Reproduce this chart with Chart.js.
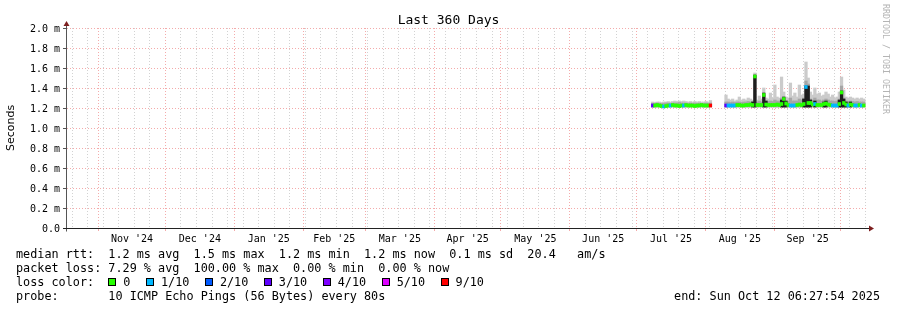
<!DOCTYPE html>
<html>
<head>
<meta charset="utf-8">
<title>Last 360 Days</title>
<script src="https://cdn.jsdelivr.net/npm/chart.js@4.4.1/dist/chart.umd.min.js"></script>
<style>
  body { margin: 0; background: #fff; }
  #frame { position: relative; width: 897px; height: 310px; font-family: "DejaVu Sans Mono", monospace; color: #000; overflow: hidden; }
  #chart { position: absolute; left: 0; top: 0; }
  .title { position: absolute; left: 0; top: 12px; width: 897px; text-align: center; font-size: 13px; line-height: 16px; }
  .stamp { position: absolute; left: 881px; top: 4px; writing-mode: vertical-rl; font-size: 8.3px; line-height: 10px; color: #b4b4b4; }
  .row { position: absolute; left: 16px; font-size: 11.8px; line-height: 14px; white-space: pre; }
  .row.end { left: auto; right: 17px; }
  .box { display: inline-block; width: 6px; height: 6px; border: 1px solid #000; vertical-align: middle; margin-right: 7px; position: relative; top: -1px; }
  .item { margin-right: 15.5px; }
</style>
</head>
<body>
<div id="frame">
  <canvas id="chart" width="897" height="310"></canvas>
  <div class="title">Last 360 Days</div>
  <div class="stamp">RRDTOOL / TOBI OETIKER</div>
  <div class="row" style="top:247px">median rtt:  1.2 ms avg  1.5 ms max  1.2 ms min  1.2 ms now  0.1 ms sd  20.4   am/s</div>
  <div class="row" style="top:261px">packet loss: 7.29 % avg  100.00 % max  0.00 % min  0.00 % now</div>
  <div class="row" id="lossRow" style="top:275px">loss color:  </div>
  <div class="row" style="top:289px">probe:       10 ICMP Echo Pings (56 Bytes) every 80s</div>
  <div class="row end" style="top:289px">end: Sun Oct 12 06:27:54 2025</div>
</div>
<script>
// window: 360 days ending Sun Oct 12 06:27:54 2025
const windowStart = Date.UTC(2024, 9, 17, 6, 27, 54);
const windowDays = 360;

// month boundaries (red grid) and the labels centred between them
const monthStarts = ["2024-11-01", "2024-12-01", "2025-01-01", "2025-02-01", "2025-03-01", "2025-04-01",
  "2025-05-01", "2025-06-01", "2025-07-01", "2025-08-01", "2025-09-01", "2025-10-01"];
const monthLabels = ["Nov '24", "Dec '24", "Jan '25", "Feb '25", "Mar '25", "Apr '25",
  "May '25", "Jun '25", "Jul '25", "Aug '25", "Sep '25"];
const firstWeekLine = "2024-10-20";

const yTickLabels = ["0.0", "0.2 m", "0.4 m", "0.6 m", "0.8 m", "1.0 m", "1.2 m", "1.4 m", "1.6 m", "1.8 m", "2.0 m"];

// one sample per day, days counted from the start of the window
const sampleDays = [
  264, 265, 266, 267, 268, 269, 270, 271, 272, 273, 274, 275, 276, 277,
  278, 279, 280, 281, 282, 283, 284, 285, 286, 287, 288, 289, 290,
  // gap, then second run
  297, 298, 299, 300, 301, 302, 303, 304, 305, 306,
  307, 308, 309, 310, 311, 312, 313, 314, 315, 316,
  317, 318, 319, 320, 321, 322, 323, 324, 325, 326,
  327, 328, 329, 330, 331, 332, 333, 334, 335, 336,
  337, 338, 339, 340, 341, 342, 343, 344, 345, 346,
  347, 348, 349, 350, 351, 352, 353, 354, 355, 356,
  357, 358, 359
];

// median rtt in ms
const medianMs = [
  1.225, 1.225, 1.23, 1.225, 1.22, 1.215, 1.22, 1.225, 1.225, 1.23, 1.225, 1.225, 1.22, 1.225,
  1.225, 1.23, 1.225, 1.225, 1.225, 1.22, 1.225, 1.225, 1.23, 1.225, 1.225, 1.225, 1.225,
  1.225, 1.225, 1.225, 1.225, 1.225, 1.23, 1.23, 1.225, 1.225, 1.23,
  1.23, 1.235, 1.23, 1.515, 1.23, 1.23, 1.23, 1.33, 1.235, 1.23,
  1.23, 1.23, 1.23, 1.235, 1.23, 1.24, 1.29, 1.245, 1.23, 1.225,
  1.225, 1.225, 1.23, 1.235, 1.23, 1.24, 1.41, 1.25, 1.25, 1.235,
  1.24, 1.23, 1.23, 1.23, 1.24, 1.245, 1.235, 1.23, 1.225, 1.225,
  1.225, 1.24, 1.355, 1.25, 1.235, 1.225, 1.235, 1.23, 1.225, 1.225,
  1.23, 1.225, 1.225
];

// top of the light smoke (slowest pings), ms
const smokeTopMs = [
  1.26, 1.255, 1.26, 1.26, 1.255, 1.26, 1.26, 1.265, 1.26, 1.265, 1.27, 1.265, 1.27, 1.265,
  1.27, 1.265, 1.26, 1.265, 1.26, 1.265, 1.26, 1.265, 1.26, 1.26, 1.265, 1.26, 1.275,
  1.33, 1.29, 1.28, 1.29, 1.27, 1.28, 1.31, 1.28, 1.29, 1.28,
  1.30, 1.29, 1.28, 1.55, 1.28, 1.32, 1.29, 1.40, 1.30, 1.29,
  1.35, 1.30, 1.43, 1.31, 1.30, 1.51, 1.36, 1.31, 1.30, 1.45,
  1.32, 1.35, 1.31, 1.43, 1.33, 1.34, 1.66, 1.50, 1.36, 1.33,
  1.40, 1.34, 1.35, 1.32, 1.33, 1.36, 1.34, 1.31, 1.33, 1.30,
  1.31, 1.36, 1.51, 1.38, 1.31, 1.30, 1.31, 1.30, 1.29, 1.30,
  1.29, 1.30, 1.29
];

// top of the denser middle smoke, ms
const smokeCoreMs = [
  1.245, 1.245, 1.25, 1.245, 1.245, 1.245, 1.25, 1.25, 1.245, 1.25, 1.25, 1.25, 1.255, 1.25,
  1.25, 1.25, 1.245, 1.25, 1.245, 1.25, 1.245, 1.25, 1.245, 1.245, 1.25, 1.245, 1.25,
  1.26, 1.26, 1.255, 1.26, 1.255, 1.26, 1.26, 1.255, 1.26, 1.26,
  1.265, 1.26, 1.265, 1.50, 1.26, 1.27, 1.26, 1.33, 1.27, 1.265,
  1.27, 1.265, 1.28, 1.27, 1.265, 1.30, 1.29, 1.27, 1.265, 1.30,
  1.27, 1.27, 1.27, 1.29, 1.28, 1.30, 1.47, 1.44, 1.29, 1.28,
  1.30, 1.28, 1.28, 1.27, 1.28, 1.29, 1.28, 1.27, 1.27, 1.265,
  1.27, 1.29, 1.42, 1.30, 1.27, 1.265, 1.27, 1.265, 1.26, 1.265,
  1.26, 1.26, 1.26
];

// days where nearly all pings were slow (black smoke), ms
const darkTopMs = [
  null, null, null, null, null, null, null, null, null, null, null, null, null, null,
  null, null, null, null, null, null, null, null, null, null, null, null, null,
  null, null, null, null, null, null, null, null, null, null,
  null, null, 1.26, 1.53, null, null, null, 1.35, 1.27, null,
  null, null, null, null, null, 1.28, 1.31, 1.27, null, null,
  null, null, null, null, null, 1.29, 1.42, 1.42, 1.28, null,
  1.27, null, null, null, 1.26, 1.27, null, null, null, null,
  null, 1.28, 1.37, 1.29, 1.26, null, 1.26, null, null, null,
  null, null, null
];

// index into lossColors
const lossLevel = [
  3, 0, 0, 0, 0, 1, 0, 0, 1, 0, 0, 0, 0, 0,
  1, 0, 0, 0, 0, 0, 0, 0, 0, 0, 0, 0, 6,
  3, 1, 1, 1, 1, 0, 0, 0, 0, 0,
  0, 0, 0, 0, 0, 0, 0, 0, 0, 0,
  0, 0, 0, 0, 0, 0, 0, 0, 0, 1,
  1, 1, 0, 0, 0, 0, 1, 0, 0, 0,
  1, 0, 0, 0, 0, 0, 0, 0, 1, 1,
  1, 0, 0, 0, 0, 1, 0, 0, 1, 1,
  0, 1, 0
];

const lossColors = ["#26ff00", "#00b8ff", "#0059ff", "#5e00ff", "#7e00ff", "#dd00ff", "#ff0000"];
const lossLabels = ["0", "1/10", "2/10", "3/10", "4/10", "5/10", "9/10"];

const smokeFloorMs = 1.21;
const medianHalfBand = 0.015;

const GRID_GREY = "#d2d2d2";
const GRID_RED = "#f4abab";

function dayOf(dateStr) {
  return (Date.parse(dateStr + "T00:00:00Z") - windowStart) / 86400000;
}

// x ticks: weekly grey lines, monthly red lines, month names in between
function buildXTicks() {
  const months = monthStarts.map(dayOf);
  const ticks = [];
  for (let d = dayOf(firstWeekLine); d < windowDays; d += 7) {
    if (months.some(function (m) { return Math.abs(m - d) < 0.5; })) continue;
    ticks.push({ value: d, kind: "week", text: "" });
  }
  months.forEach(function (m) {
    ticks.push({ value: m, kind: "month", text: "" });
  });
  monthLabels.forEach(function (label, i) {
    ticks.push({ value: (months[i] + months[i + 1]) / 2, kind: "label", text: label });
  });
  ticks.sort(function (a, b) { return a.value - b.value; });
  return ticks;
}
const xTicks = buildXTicks();

function floatingBars(tops) {
  return sampleDays.map(function (d, i) {
    return { x: d, y: tops[i] == null ? null : [smokeFloorMs, tops[i]] };
  });
}

// legend swatches
const lossRow = document.getElementById("lossRow");
lossLabels.forEach(function (label, i) {
  const box = document.createElement("span");
  box.className = "box";
  box.style.background = lossColors[i];
  const txt = document.createElement("span");
  txt.className = "item";
  txt.textContent = label;
  lossRow.appendChild(box);
  lossRow.appendChild(txt);
});

// extends the axes a little and puts the arrow heads on them
const axisArrows = {
  id: "axisArrows",
  afterDraw(chart) {
    const ctx = chart.ctx;
    const a = chart.chartArea;
    const x0 = Math.round(a.left) + 0.5;
    const y0 = Math.round(a.bottom) + 0.5;
    ctx.save();
    ctx.lineWidth = 1;
    ctx.strokeStyle = "#555";
    ctx.beginPath();
    ctx.moveTo(x0, a.top);
    ctx.lineTo(x0, a.top - 3);
    ctx.moveTo(x0, y0);
    ctx.lineTo(x0, y0 + 3);
    ctx.stroke();
    ctx.strokeStyle = "#222";
    ctx.beginPath();
    ctx.moveTo(a.left - 3, y0);
    ctx.lineTo(a.right + 3, y0);
    ctx.stroke();
    ctx.fillStyle = "#7d1f1f";
    ctx.beginPath();
    ctx.moveTo(x0, a.top - 7);
    ctx.lineTo(x0 - 3, a.top - 2);
    ctx.lineTo(x0 + 3, a.top - 2);
    ctx.closePath();
    ctx.fill();
    ctx.beginPath();
    ctx.moveTo(a.right + 8, y0);
    ctx.lineTo(a.right + 3, y0 - 3);
    ctx.lineTo(a.right + 3, y0 + 3);
    ctx.closePath();
    ctx.fill();
    ctx.restore();
  }
};

const barCommon = { grouped: false, barPercentage: 1, categoryPercentage: 1, barThickness: 2.6, borderWidth: 0 };

new Chart(document.getElementById("chart"), {
  type: "bar",
  data: {
    datasets: [
      Object.assign({ label: "smoke", data: floatingBars(smokeTopMs), backgroundColor: "#cbcbcb", order: 4 }, barCommon),
      Object.assign({ label: "smoke core", data: floatingBars(smokeCoreMs), backgroundColor: "#a6a6a6", order: 3 }, barCommon),
      Object.assign({ label: "dark smoke", data: floatingBars(darkTopMs), backgroundColor: "#1e1e1e", order: 2 }, barCommon),
      Object.assign({
        label: "median rtt",
        data: sampleDays.map(function (d, i) {
          return { x: d, y: [medianMs[i] - medianHalfBand, medianMs[i] + medianHalfBand] };
        }),
        backgroundColor: lossLevel.map(function (l) { return lossColors[l]; }),
        order: 1
      }, barCommon)
    ]
  },
  options: {
    responsive: false,
    animation: false,
    devicePixelRatio: 1,
    layout: { padding: { top: 28, right: 31, bottom: 0, left: 0 } },
    plugins: {
      legend: { display: false },
      tooltip: { enabled: false },
      title: { display: false }
    },
    scales: {
      x: {
        type: "linear",
        min: 0,
        max: windowDays,
        offset: false,
        afterBuildTicks: function (scale) {
          scale.ticks = xTicks.map(function (t) { return { value: t.value, kind: t.kind, text: t.text }; });
        },
        afterFit: function (scale) { scale.height = 82; },
        ticks: {
          autoSkip: false,
          maxRotation: 0,
          minRotation: 0,
          padding: 2,
          color: "#000",
          font: { family: "DejaVu Sans Mono", size: 10 },
          callback: function (value, index, ticks) { return ticks[index].text; }
        },
        grid: {
          offset: false,
          tickLength: 3,
          color: function (ctx) {
            if (!ctx.tick) return "transparent";
            if (ctx.tick.kind === "month") return GRID_RED;
            if (ctx.tick.kind === "week") return GRID_GREY;
            return "transparent";
          },
          tickColor: function (ctx) {
            return ctx.tick && ctx.tick.kind === "month" ? GRID_RED : "transparent";
          }
        },
        border: { color: "#222", dash: [1, 2] }
      },
      y: {
        min: 0,
        max: 2.0,
        afterFit: function (scale) { scale.width = 66; },
        ticks: {
          stepSize: 0.1,
          padding: 3,
          labelOffset: 1,
          color: "#000",
          font: { family: "DejaVu Sans Mono", size: 10 },
          callback: function (value) {
            const k = Math.round(value * 10);
            return k % 2 === 0 ? yTickLabels[k / 2] : "";
          }
        },
        grid: {
          tickLength: 3,
          color: function (ctx) {
            if (!ctx.tick || ctx.tick.value === 0) return "transparent";
            return Math.round(ctx.tick.value * 10) % 2 === 0 ? GRID_RED : GRID_GREY;
          },
          tickColor: function (ctx) {
            if (!ctx.tick) return "transparent";
            return Math.round(ctx.tick.value * 10) % 2 === 0 ? "#555" : "#aaa";
          }
        },
        border: { color: "#555", dash: [1, 2] },
        title: {
          display: true,
          text: "Seconds",
          color: "#000",
          font: { family: "DejaVu Sans", size: 11 },
          padding: { top: 5, bottom: 0 }
        }
      }
    }
  },
  plugins: [axisArrows]
});
</script>
</body>
</html>
